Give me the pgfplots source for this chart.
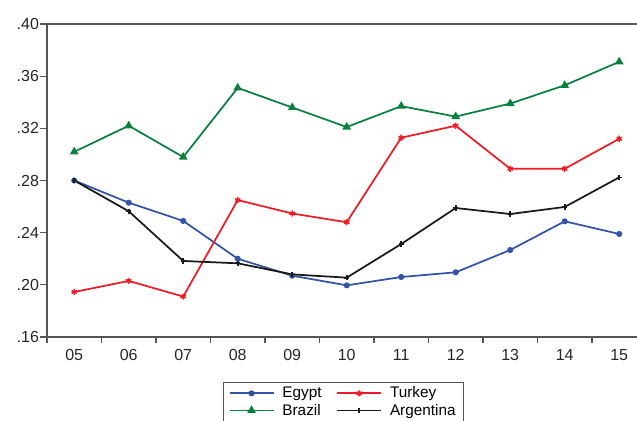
\documentclass[border=0pt]{standalone}
\usepackage{pgfplots}
\pgfplotsset{compat=1.18}
\usepackage{fontspec}
\setmainfont{Liberation Sans}
\definecolor{cEgypt}{RGB}{50,84,166}
\definecolor{cTurkey}{RGB}{237,28,36}
\definecolor{cBrazil}{RGB}{8,128,62}
\definecolor{cFrame}{RGB}{85,85,85}
\begin{document}
\begin{tikzpicture}
\useasboundingbox (-35.25pt,-63pt) rectangle (442.5pt,252.75pt);
\begin{axis}[
  scale only axis,
  width=449.6pt, height=234.75pt,
  xmin=4.5, xmax=15.5, ymin=0.16, ymax=0.40,
  axis line style={cFrame, line width=1.1pt},
  xtick={5,...,15},
  xticklabels={05,06,07,08,09,10,11,12,13,14,15},
  minor xtick={4.5,5.5,...,15.5},
  ytick={0.16,0.20,0.24,0.28,0.32,0.36,0.40},
  yticklabels={.16,.20,.24,.28,.32,.36,.40},
  xtick pos=bottom, ytick pos=left,
  tick align=outside,
  major x tick style={draw=none},
  minor x tick style={cFrame, line width=0.8pt},
  minor tick length=4.5pt,
  major tick length=5pt,
  y tick style={cFrame, line width=0.8pt},
  tick label style={font=\fontsize{12pt}{14pt}\selectfont, text=black!85},
  xticklabel style={yshift=-1pt},
  yticklabel style={xshift=2.5pt},
  /pgf/number format/assume math mode=true,
  legend columns=2,
  legend cell align=left,
  legend style={at={(0.2935,-0.145)}, anchor=north west, draw=cFrame, line width=0.6pt,
    font=\fontsize{11.5pt}{13pt}\selectfont, inner xsep=4pt, inner ysep=1pt,
    /tikz/every odd column/.append style={column sep=4pt},
    /tikz/every even column/.append style={column sep=9pt},
    row sep=-1pt},
  legend image code/.code={\draw[mark repeat=2,mark phase=2,#1] plot coordinates {(0pt,0pt) (16.5pt,0pt) (33pt,0pt)};},
  every axis plot/.append style={line width=1.3pt},
]
\addplot[color=cEgypt, mark=*, mark size=1.6pt] coordinates {
(5,0.280) (6,0.263) (7,0.249) (8,0.220) (9,0.207) (10,0.1996) (11,0.206) (12,0.2096) (13,0.2267) (14,0.2487) (15,0.239)};
\addlegendentry{Egypt}
\addplot[color=cTurkey, mark=asterisk, mark size=2.3pt, mark options={line width=1.1pt}] coordinates {
(5,0.1945) (6,0.203) (7,0.191) (8,0.265) (9,0.2547) (10,0.248) (11,0.3128) (12,0.322) (13,0.289) (14,0.289) (15,0.312)};
\addlegendentry{Turkey}
\addplot[color=cBrazil, mark=triangle*, mark size=2.5pt] coordinates {
(5,0.302) (6,0.322) (7,0.298) (8,0.351) (9,0.336) (10,0.321) (11,0.337) (12,0.329) (13,0.339) (14,0.353) (15,0.371)};
\addlegendentry{Brazil}
\addplot[color=black!90, mark=+, mark size=2pt, mark options={line width=1.3pt}] coordinates {
(5,0.280) (6,0.2564) (7,0.2183) (8,0.2165) (9,0.208) (10,0.2055) (11,0.2313) (12,0.2589) (13,0.2543) (14,0.2597) (15,0.2824)};
\addlegendentry{Argentina}
\end{axis}
\end{tikzpicture}
\end{document}
